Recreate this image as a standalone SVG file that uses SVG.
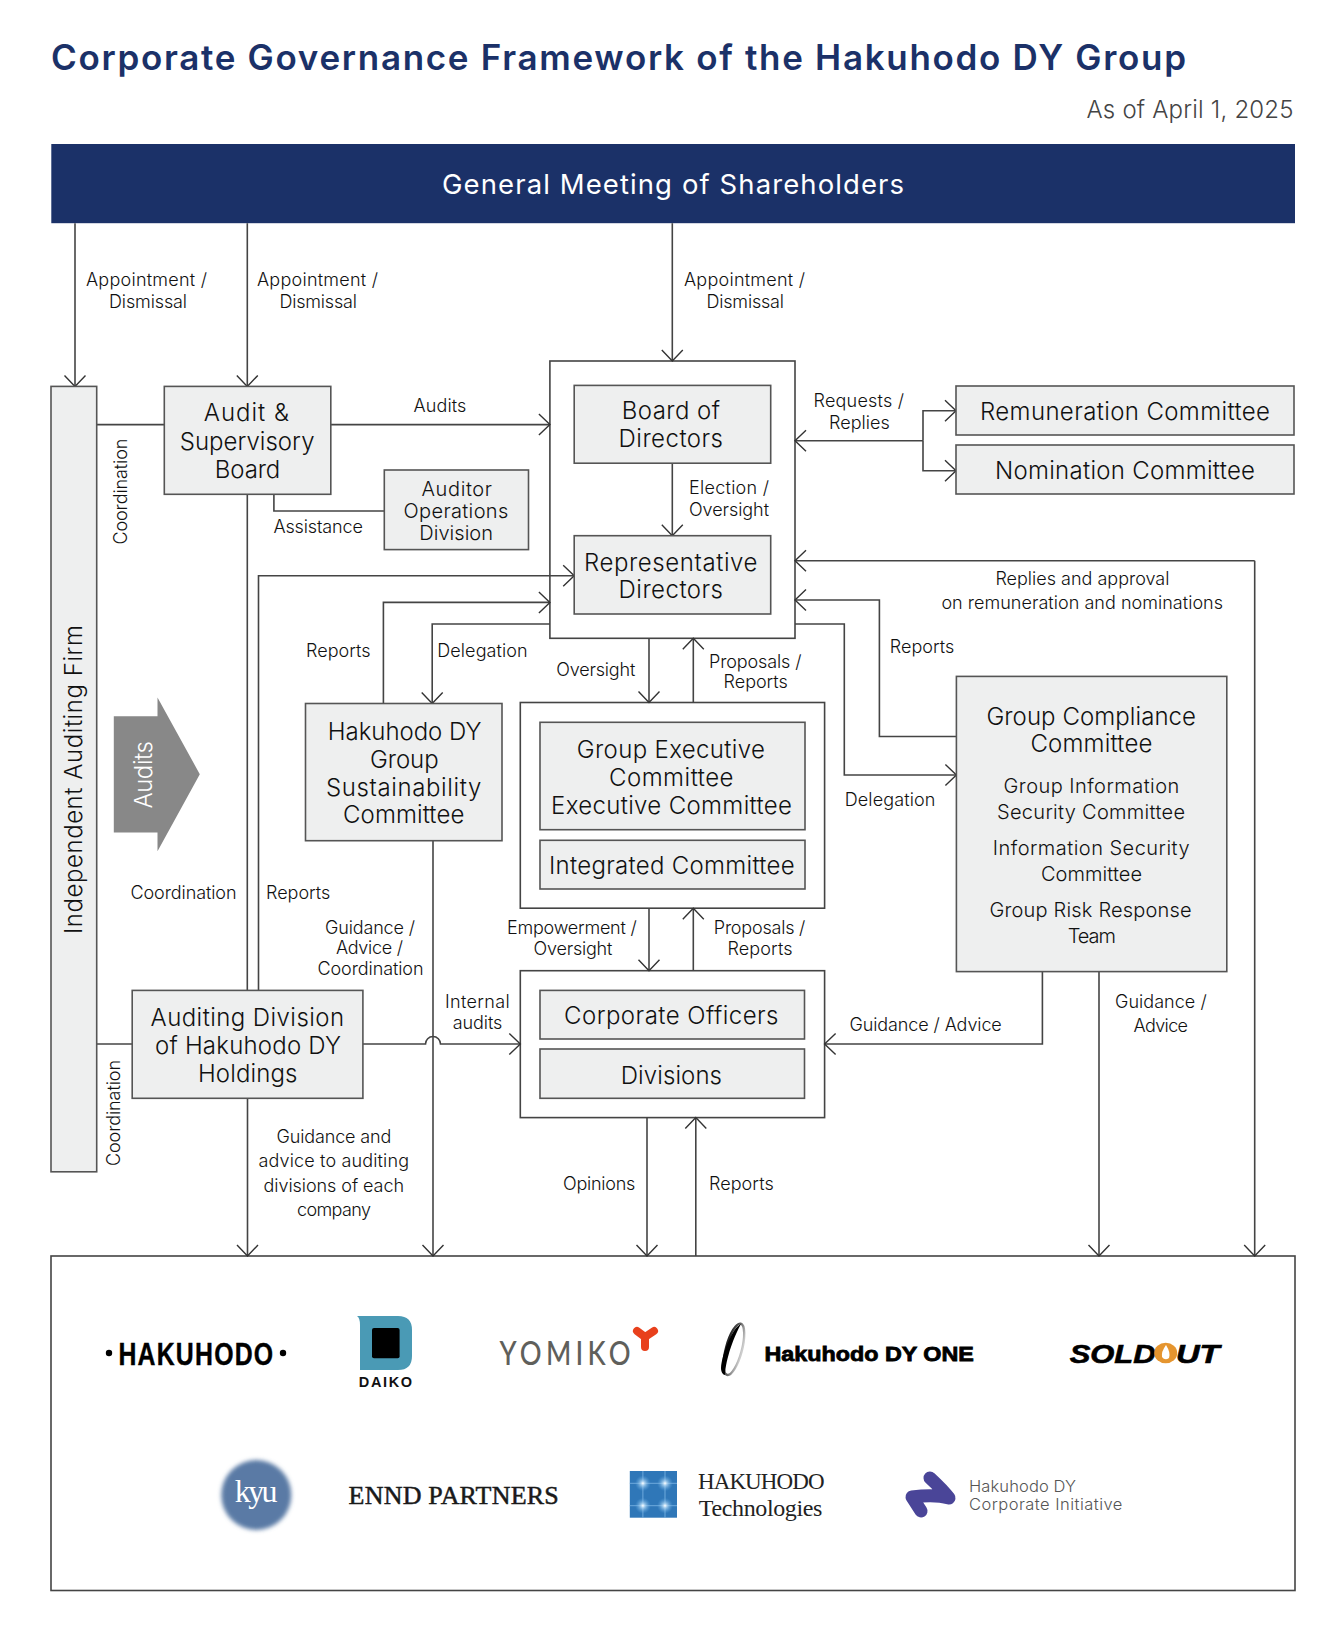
<svg xmlns="http://www.w3.org/2000/svg" width="1342" height="1642" viewBox="0 0 1342 1642">
<style>
text{font-family:Inter,"Noto Sans",sans-serif;fill:#222}
.title{font-size:35px;font-weight:600;fill:#1b3168}
.date{font-size:24px;font-weight:300;fill:#444}
.ban{font-size:27.5px;font-weight:400;fill:#fff}
.n{font-size:24px;font-weight:300;fill:#111}
.m{font-size:20px;font-weight:300;fill:#111}
.l{font-size:18px;font-weight:300;fill:#111}
.box{fill:#eeefef;stroke:#555;stroke-width:1.6}
.out{fill:#fff;stroke:#444;stroke-width:1.6}
.c{fill:none;stroke:#444;stroke-width:1.6}
.ar{marker-end:url(#a)}
.s{font-family:"Liberation Serif",serif}
</style>
<defs>
<marker id="a" markerUnits="userSpaceOnUse" markerWidth="14" markerHeight="24" viewBox="0 0 14 24" refX="12" refY="12" orient="auto" overflow="visible"><path d="M1,1.5L12,12L1,22.5" fill="none" stroke="#333" stroke-width="1.4"/></marker>
<filter id="blur" x="-20%" y="-20%" width="140%" height="140%"><feGaussianBlur stdDeviation="2"/></filter>
<linearGradient id="ring" x1="0" x2="1" y1="0" y2="0"><stop offset="0" stop-color="#222"/><stop offset=".5" stop-color="#666"/><stop offset="1" stop-color="#ccc"/></linearGradient>
<radialGradient id="glow"><stop offset="0" stop-color="#fff"/><stop offset=".25" stop-color="#bfe0f8" stop-opacity=".8"/><stop offset="1" stop-color="#5aa5e0" stop-opacity="0"/></radialGradient>
</defs>
<rect width="1342" height="1642" fill="#fff"/>
<g id="heading">
<text class="title" x="51" y="70.4" textLength="1135">Corporate Governance Framework of the Hakuhodo DY Group</text>
<text class="date" x="1086.5" y="118" textLength="207">As of April 1, 2025</text>
</g>
<g id="shareholders"><rect x="51.3" y="144" width="1243.7" height="79.2" fill="#1b3168"/><text class="ban" x="442" y="194" textLength="462">General Meeting of Shareholders</text></g>

<g id="board-frame"><rect class="out" x="549.9" y="361" width="245.1" height="277.3"/></g>
<g id="exec-frame"><rect class="out" x="520.3" y="702.5" width="304.3" height="205.7"/></g>
<g id="officers-frame"><rect class="out" x="520.3" y="970.7" width="304.3" height="146.9"/></g>
<g id="companies"><rect x="51" y="1256" width="1244" height="334.5" fill="#fff" stroke="#444" stroke-width="1.6"/></g>

<g id="connectors">
<path class="c ar" d="M75,223.2V386.4"/>
<path class="c ar" d="M247.3,223.2V386.4"/>
<path class="c ar" d="M672.3,223.2V361"/>
<path class="c" d="M96.7,424.6H164.3"/>
<path class="c ar" d="M330.8,424.6H549.9"/>
<path class="c" d="M273.9,494.3V511H384.3"/>
<path class="c" d="M247.3,494.3V990.4"/>
<path class="c ar" d="M672.3,463.2V535.7"/>
<path class="c ar" d="M923,440.7H795"/>
<path class="c ar" d="M923,440.7V410.7H956"/>
<path class="c ar" d="M923,440.7V470.7H956"/>
<path class="c ar" d="M1254.7,560.7H795"/>
<path class="c ar" d="M1254.7,560.7V1256"/>
<path class="c ar" d="M956.4,736.5H879.4V600H795"/>
<path class="c ar" d="M795,624H844.3V775H956.4"/>
<path class="c ar" d="M649,638.3V702.5"/>
<path class="c ar" d="M693.3,702.5V638.3"/>
<path class="c ar" d="M649,908.2V970.7"/>
<path class="c ar" d="M693.3,970.7V908.2"/>
<path class="c ar" d="M383.4,703.5V602.4H549.9"/>
<path class="c ar" d="M549.9,624H432.2V703.5"/>
<path class="c ar" d="M258.5,990.4V575.8H574.2"/>
<path class="c" d="M96.7,1044H132.2"/>
<path class="c ar" d="M362.9,1044H425.5A7.5,7.5 0 0 1 440.5,1044H520.3"/>
<path class="c ar" d="M433,840.7V1256"/>
<path class="c ar" d="M247.5,1098.3V1256"/>
<path class="c ar" d="M647,1117.6V1256"/>
<path class="c ar" d="M695.8,1256V1117.6"/>
<path class="c ar" d="M1042.4,971.6V1044H824.6"/>
<path class="c ar" d="M1099,971.6V1256"/>
</g>

<g id="labels">
<text class="l" x="86" y="286.4" textLength="121">Appointment /</text><text class="l" x="109" y="308" textLength="78">Dismissal</text>
<text class="l" x="257" y="286.4" textLength="121">Appointment /</text><text class="l" x="279.4" y="308" textLength="77.6">Dismissal</text>
<text class="l" x="684" y="286.4" textLength="121">Appointment /</text><text class="l" x="706.5" y="308" textLength="77.5">Dismissal</text>
<text class="l" x="413.4" y="411.8" textLength="53">Audits</text>
<text class="l" x="127" y="544.6" textLength="106" transform="rotate(-90 127 544.6)">Coordination</text>
<text class="l" x="273.4" y="533" textLength="89.5">Assistance</text>
<text class="l" x="813.5" y="407" textLength="90.5">Requests /</text><text class="l" x="829" y="428.6" textLength="60.7">Replies</text>
<text class="l" x="689" y="494" textLength="80">Election /</text><text class="l" x="689" y="515.7" textLength="80">Oversight</text>
<text class="l" x="995.4" y="585" textLength="174">Replies and approval</text><text class="l" x="941.4" y="608.9" textLength="281.6">on remuneration and nominations</text>
<text class="l" x="889.7" y="652.5" textLength="64.6">Reports</text>
<text class="l" x="844.7" y="806.3" textLength="90.7">Delegation</text>
<text class="l" x="306" y="657" textLength="64.5">Reports</text>
<text class="l" x="437.3" y="657" textLength="90.3">Delegation</text>
<text class="l" x="556.3" y="676" textLength="79">Oversight</text>
<text class="l" x="709" y="667.6" textLength="92.5">Proposals /</text><text class="l" x="723.6" y="688.3" textLength="64.2">Reports</text>
<text class="l" x="507" y="934" textLength="129.7">Empowerment /</text><text class="l" x="533.6" y="954.6" textLength="78.7">Oversight</text>
<text class="l" x="713.8" y="934" textLength="91.6">Proposals /</text><text class="l" x="727.5" y="954.6" textLength="65">Reports</text>
<text class="l" x="130.5" y="899" textLength="106">Coordination</text>
<text class="l" x="266" y="899" textLength="64.3">Reports</text>
<text class="l" x="325" y="934" textLength="90">Guidance /</text><text class="l" x="336" y="954" textLength="67">Advice /</text><text class="l" x="317.5" y="975" textLength="106">Coordination</text>
<text class="l" x="445" y="1008.3" textLength="64.6">Internal</text><text class="l" x="452.7" y="1029.4" textLength="49.7">audits</text>
<text class="l" x="119.8" y="1166" textLength="106" transform="rotate(-90 119.8 1166)">Coordination</text>
<text class="l" x="276.4" y="1143" textLength="115">Guidance and</text><text class="l" x="258.5" y="1167" textLength="150.5">advice to auditing</text><text class="l" x="263.6" y="1192" textLength="140.4">divisions of each</text><text class="l" x="297" y="1216" textLength="74">company</text>
<text class="l" x="563" y="1189.7" textLength="72.4">Opinions</text>
<text class="l" x="709" y="1189.7" textLength="64.7">Reports</text>
<text class="l" x="849.4" y="1030.8" textLength="152.4">Guidance / Advice</text>
<text class="l" x="1115" y="1008" textLength="91.7">Guidance /</text><text class="l" x="1133.6" y="1031.7" textLength="54.4">Advice</text>
</g>

<g id="auditing-firm"><rect class="box" x="51" y="386.4" width="45.7" height="785.4"/><text class="n" x="82" y="934" textLength="309" transform="rotate(-90 82 934)">Independent Auditing Firm</text></g>
<g id="audits-arrow"><path d="M113.8,716.3H157.5V697.5L199.8,774.2L157.5,851.3V832.5H113.8Z" fill="#888"/><text class="n" x="152" y="808.6" textLength="67.6" transform="rotate(-90 152 808.6)" style="fill:#fff">Audits</text></g>
<g id="audit-board"><rect class="box" x="164.3" y="386.4" width="166.5" height="107.9"/><text class="n" x="203.7" y="421.4" textLength="85.3">Audit &amp;</text><text class="n" x="179.7" y="450" textLength="134.8">Supervisory</text><text class="n" x="214.8" y="477.5" textLength="65.5">Board</text></g>
<g id="auditor-ops"><rect class="box" x="384.3" y="470" width="144.2" height="79.6"/><text class="m" x="421.5" y="495.7" textLength="70.5">Auditor</text><text class="m" x="403.5" y="517.9" textLength="104.8">Operations</text><text class="m" x="419.3" y="539.6" textLength="73.7">Division</text></g>
<g id="board"><rect class="box" x="574.2" y="385.4" width="196.5" height="77.8"/><text class="n" x="621.7" y="419" textLength="98.3">Board of</text><text class="n" x="618.6" y="447" textLength="104.4">Directors</text></g>
<g id="rep-directors"><rect class="box" x="574.2" y="535.7" width="196.5" height="78.3"/><text class="n" x="584" y="571" textLength="173.5">Representative</text><text class="n" x="618.6" y="598.3" textLength="104.4">Directors</text></g>
<g id="remuneration"><rect class="box" x="956" y="386" width="338" height="49"/><text class="n" x="980" y="419.6" textLength="290">Remuneration Committee</text></g>
<g id="nomination"><rect class="box" x="956" y="445" width="338" height="49"/><text class="n" x="995" y="478.6" textLength="260">Nomination Committee</text></g>
<g id="compliance"><rect class="box" x="956.4" y="676.4" width="270.4" height="295.2"/><text class="n" x="986.4" y="725" textLength="209.6">Group Compliance</text><text class="n" x="1030.4" y="752" textLength="122">Committee</text><text class="m" x="1003.5" y="793.4" textLength="175.8">Group Information</text><text class="m" x="997" y="819" textLength="188">Security Committee</text><text class="m" x="992.8" y="855" textLength="196.8">Information Security</text><text class="m" x="1041" y="881" textLength="101">Committee</text><text class="m" x="989.4" y="917.4" textLength="202.3">Group Risk Response</text><text class="m" x="1067.7" y="943" textLength="48.3">Team</text></g>
<g id="exec-committee"><rect class="box" x="540" y="722.3" width="265" height="107.4"/><text class="n" x="576.8" y="757.6" textLength="188.2">Group Executive</text><text class="n" x="609" y="785.6" textLength="124.5">Committee</text><text class="n" x="551" y="814" textLength="241">Executive Committee</text></g>
<g id="integrated"><rect class="box" x="540" y="840.3" width="265" height="48.7"/><text class="n" x="549" y="873.8" textLength="245.7">Integrated Committee</text></g>
<g id="officers"><rect class="box" x="540" y="990.4" width="264.5" height="48.6"/><text class="n" x="564" y="1024.4" textLength="214.5">Corporate Officers</text></g>
<g id="divisions"><rect class="box" x="540" y="1049" width="264.5" height="49.3"/><text class="n" x="620.7" y="1083.6" textLength="101.3">Divisions</text></g>
<g id="sustainability"><rect class="box" x="305.5" y="703.5" width="196.5" height="137.2"/><text class="n" x="327.8" y="739.7" textLength="153.6">Hakuhodo DY</text><text class="n" x="370" y="767.7" textLength="68.6">Group</text><text class="n" x="326" y="795.7" textLength="155.4">Sustainability</text><text class="n" x="343" y="822.8" textLength="121.3">Committee</text></g>
<g id="auditing-division"><rect class="box" x="132.2" y="990.4" width="230.7" height="107.9"/><text class="n" x="150.6" y="1025.8" textLength="193.4">Auditing Division</text><text class="n" x="155" y="1053.8" textLength="186">of Hakuhodo DY</text><text class="n" x="198" y="1081.8" textLength="99.4">Holdings</text></g>

<g id="logo-hakuhodo"><circle cx="109" cy="1353" r="3.2" fill="#000"/><circle cx="283" cy="1353" r="3.2" fill="#000"/><text transform="translate(118.4 1364.7) scale(.8 1)" style="font-family:'Liberation Sans',sans-serif;font-size:31px;font-weight:700;fill:#000;stroke:#000;stroke-width:.4;letter-spacing:1.56px">HAKUHODO</text></g>
<g id="logo-daiko"><path d="M357,1316H398Q412,1316 412,1330V1356Q412,1370 398,1370H360V1325Q360,1318 357,1316Z" fill="#4a9ab5"/><rect x="372" y="1328" width="27.6" height="30.3" rx="2" fill="#000"/><text x="358.8" y="1386.7" textLength="53.2" style="font-family:'Liberation Sans',sans-serif;font-size:14.5px;font-weight:700;fill:#111">DAIKO</text></g>
<g id="logo-yomiko"><text transform="translate(499.6 1365) scale(.85 1)" textLength="154" style="font-family:Lato,sans-serif;font-size:32px;font-weight:500;fill:#5f5f5b">YOMIKO</text><path d="M637,1331L645,1337L654,1331M645,1337V1347" fill="none" stroke="#e8401c" stroke-width="8" stroke-linecap="round" stroke-linejoin="round"/></g>
<g id="logo-dyone"><ellipse cx="733.9" cy="1349.3" rx="8" ry="26.5" transform="rotate(15 733.9 1349.3)" fill="none" stroke="url(#ring)" stroke-width="2.4"/><path d="M741,1324C732,1328 722,1354 721,1368C721,1372 723,1375 725,1375C725,1368 729,1346 741,1324Z" fill="#000"/><text x="764.5" y="1360.7" textLength="209.4" lengthAdjust="spacingAndGlyphs" style="font-family:'Liberation Sans',sans-serif;font-size:21px;font-weight:700;fill:#000;stroke:#000;stroke-width:.8">Hakuhodo DY ONE</text></g>
<g id="logo-soldout"><text x="1069.8" y="1362.7" textLength="85.7" lengthAdjust="spacingAndGlyphs" style="font-family:'Liberation Sans',sans-serif;font-size:25px;font-weight:700;font-style:italic;fill:#000;stroke:#000;stroke-width:.6">SOLD</text><ellipse cx="1165.7" cy="1353" rx="11.5" ry="10.3" fill="#e5952f"/><path d="M1166,1345Q1161,1352 1162,1357Q1165,1361 1169,1358Q1171,1353 1166,1345Z" fill="#fff"/><text x="1176" y="1362.7" textLength="43.6" lengthAdjust="spacingAndGlyphs" style="font-family:'Liberation Sans',sans-serif;font-size:25px;font-weight:700;font-style:italic;fill:#000;stroke:#000;stroke-width:.6">UT</text></g>
<g id="logo-kyu"><circle cx="256.3" cy="1495" r="35" fill="#5a7aa5" filter="url(#blur)"/><text class="s" x="234.7" y="1501.7" textLength="42.9" style="font-size:32px;fill:#fff">kyu</text></g>
<g id="logo-ennd"><text class="s" x="348.6" y="1504" textLength="210.2" style="font-size:26px;fill:#1a1a1a;stroke:#1a1a1a;stroke-width:.5">ENND PARTNERS</text></g>
<g id="logo-tech"><rect x="629.8" y="1471" width="47.2" height="46.7" fill="#2f77b8"/><path d="M642.9,1471V1517.7M665,1471V1517.7M629.8,1483.3H677M629.8,1505.7H677" stroke="#7db7e6" stroke-width=".8" fill="none"/><circle cx="642.9" cy="1483.3" r="8" fill="url(#glow)"/><circle cx="665" cy="1483.3" r="8" fill="url(#glow)"/><circle cx="642.9" cy="1505.7" r="8" fill="url(#glow)"/><circle cx="665" cy="1505.7" r="8" fill="url(#glow)"/><text class="s" x="698" y="1489.3" textLength="126.5" style="font-size:23px;fill:#222">HAKUHODO</text><text class="s" x="698.8" y="1516" textLength="123.6" style="font-size:24px;fill:#222">Technologies</text></g>
<g id="logo-initiative"><path d="M930,1478Q943,1490 949,1498Q935,1494 912,1497L921,1511" fill="none" stroke="#4a4598" stroke-width="13" stroke-linecap="round" stroke-linejoin="round"/><text x="969" y="1492" textLength="107" style="font-size:16.5px;font-weight:300;fill:#555">Hakuhodo DY</text><text x="969" y="1510.3" textLength="153.4" style="font-size:16.5px;font-weight:300;fill:#555">Corporate Initiative</text></g>
</svg>
